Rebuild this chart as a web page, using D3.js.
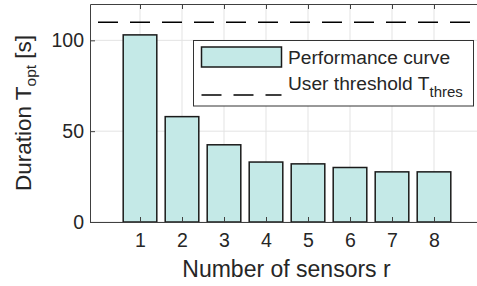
<!DOCTYPE html>
<html>
<head>
<meta charset="utf-8">
<script src="https://cdn.jsdelivr.net/npm/d3@7"></script>
<style>
  body { margin: 0; background: #fff; }
  svg { display: block; font-family: "Liberation Sans", Arial, sans-serif; }
</style>
</head>
<body>
<div id="chart"></div>
<script>
// values
const sensors = [1, 2, 3, 4, 5, 6, 7, 8];
const duration = [103, 58, 42.5, 33, 32, 30, 27.6, 27.6];
const threshold = 110;
const yTicks = [0, 50, 100];

const width = 477, height = 286;
const plotLeft = 90, plotTop = 4, plotBottom = 222, plotRight = 477;
const axisColor = '#404040';
const textColor = '#262626';
const barFill = '#c4e9e7';

const svg = d3.select('#chart').append('svg')
    .attr('width', width)
    .attr('height', height);

svg.append('rect').attr('width', width).attr('height', height).attr('fill', '#fff');

const x = d3.scaleLinear().domain([1, 8]).range([140, 434]);
const y = d3.scaleLinear().domain([0, 120]).range([plotBottom, plotTop]);
const barW = x(1.8) - x(1);

// grid
const grid = svg.append('g').attr('stroke', '#e3e3e3').attr('stroke-width', 1);
grid.selectAll('.gx').data(sensors).enter().append('line')
    .attr('x1', d => x(d)).attr('x2', d => x(d))
    .attr('y1', plotTop).attr('y2', plotBottom);
grid.selectAll('.gy').data(yTicks).enter().append('line')
    .attr('x1', plotLeft).attr('x2', plotRight)
    .attr('y1', d => y(d)).attr('y2', d => y(d));

// bars
svg.append('g').selectAll('rect')
    .data(sensors)
    .enter().append('rect')
    .attr('x', d => x(d) - barW / 2)
    .attr('y', (d, i) => y(duration[i]))
    .attr('width', barW)
    .attr('height', (d, i) => y(0) - y(duration[i]))
    .attr('fill', barFill)
    .attr('stroke', '#1a1a1a')
    .attr('stroke-width', 1.5);

// threshold line
svg.append('line')
    .attr('x1', x(0)).attr('x2', plotRight)
    .attr('y1', y(threshold)).attr('y2', y(threshold))
    .attr('stroke', '#000')
    .attr('stroke-width', 1.5)
    .attr('stroke-dasharray', '20,12');

// axes
const xAxis = d3.axisBottom(x).tickValues(sensors).tickSize(-5).tickPadding(11).tickFormat(d3.format('d'));
const gx = svg.append('g').attr('transform', `translate(0,${plotBottom})`).call(xAxis);
gx.select('.domain').remove();
const xTop = d3.axisTop(x).tickValues(sensors).tickSize(-5).tickFormat('');
const gt = svg.append('g').attr('transform', `translate(0,${plotTop})`).call(xTop);
gt.select('.domain').remove();

const yAxis = d3.axisLeft(y).tickValues(yTicks).tickSize(-5).tickPadding(6);
const gy = svg.append('g').attr('transform', `translate(${plotLeft},0)`).call(yAxis);
gy.select('.domain').remove();

svg.selectAll('.tick line').attr('stroke', axisColor);
svg.selectAll('.tick text')
    .attr('fill', textColor)
    .style('font-size', '19.5px')
    .style('font-family', '"Liberation Sans", Arial, sans-serif');

// box lines (left, bottom, top)
const box = svg.append('g').attr('stroke', axisColor).attr('stroke-width', 1).attr('fill', 'none');
box.append('path').attr('d', `M${plotRight},${plotTop + 0.5}H${plotLeft + 0.5}V${plotBottom + 0.5}H${plotRight}`);

// axis labels
svg.append('text')
    .attr('x', 286.5)
    .attr('y', 277)
    .attr('text-anchor', 'middle')
    .attr('fill', textColor)
    .style('font-size', '23px')
    .text('Number of sensors r');

const yl = svg.append('text')
    .attr('transform', `translate(31,${(plotTop + plotBottom) / 2}) rotate(-90)`)
    .attr('text-anchor', 'middle')
    .attr('fill', textColor)
    .style('font-size', '22.5px');
yl.append('tspan').text('Duration T');
yl.append('tspan').attr('dy', 5).style('font-size', '15.5px').text('opt');
yl.append('tspan').attr('dy', -5).text(' [s]');

// legend
const lg = svg.append('g');
lg.append('rect')
    .attr('x', 193.5).attr('y', 40.5)
    .attr('width', 280).attr('height', 65.5)
    .attr('fill', '#fff')
    .attr('stroke', '#333')
    .attr('stroke-width', 1);
lg.append('rect')
    .attr('x', 201.5).attr('y', 47)
    .attr('width', 80).attr('height', 20)
    .attr('fill', barFill)
    .attr('stroke', '#1a1a1a')
    .attr('stroke-width', 1.5);
lg.append('line')
    .attr('x1', 201.5).attr('x2', 281.5)
    .attr('y1', 95).attr('y2', 95)
    .attr('stroke', '#000')
    .attr('stroke-width', 1.5)
    .attr('stroke-dasharray', '20,12');
lg.append('text')
    .attr('x', 288).attr('y', 64)
    .attr('fill', textColor)
    .style('font-size', '19.2px')
    .text('Performance curve');
const lt = lg.append('text')
    .attr('x', 288).attr('y', 90)
    .attr('fill', textColor)
    .style('font-size', '19.2px');
lt.append('tspan').text('User threshold T');
lt.append('tspan').attr('dy', 7).style('font-size', '15px').text('thres');
</script>
</body>
</html>
